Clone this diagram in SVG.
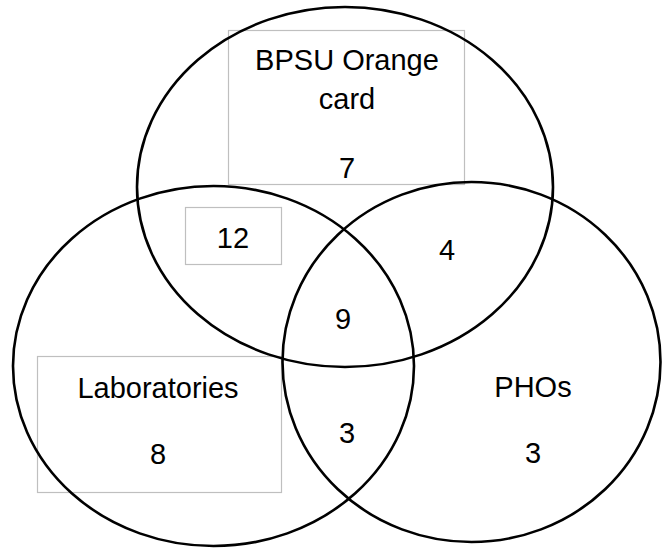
<svg xmlns="http://www.w3.org/2000/svg" width="662" height="550" viewBox="0 0 662 550">
<style>
.bg{fill:#ffffff}
.box{fill:none;stroke:#bfbfbf;stroke-width:1.2}
.set{fill:none;stroke:#000000;stroke-width:2.6}
.t{font-family:"Liberation Sans",Arial,sans-serif;font-size:29px;fill:#000000;text-anchor:middle}
</style>
<rect class="bg" x="0" y="0" width="662" height="550"/>
<g id="box-orange"><rect class="box" x="228.5" y="30.5" width="236" height="154"/></g>
<g id="box-12"><rect class="box" x="185.5" y="207.5" width="96" height="57"/></g>
<g id="box-labs"><rect class="box" x="37.5" y="356.5" width="244" height="136"/></g>
<g id="connectors">
<ellipse id="set-orange" class="set" cx="345" cy="187" rx="208" ry="180"/>
<ellipse id="set-labs" class="set" cx="213.5" cy="366" rx="200.5" ry="180"/>
<ellipse id="set-phos" class="set" cx="471.5" cy="362" rx="189" ry="180"/>
</g>
<g id="labels">
<text class="t" x="347" y="70">BPSU Orange</text>
<text class="t" x="347" y="109">card</text>
<text class="t" x="347" y="178">7</text>
<text class="t" x="233" y="248">12</text>
<text class="t" x="447" y="260">4</text>
<text class="t" x="343" y="329">9</text>
<text class="t" x="158" y="398">Laboratories</text>
<text class="t" x="158" y="464">8</text>
<text class="t" x="347" y="443">3</text>
<text class="t" x="533" y="397">PHOs</text>
<text class="t" x="533" y="463">3</text>
</g>
</svg>
